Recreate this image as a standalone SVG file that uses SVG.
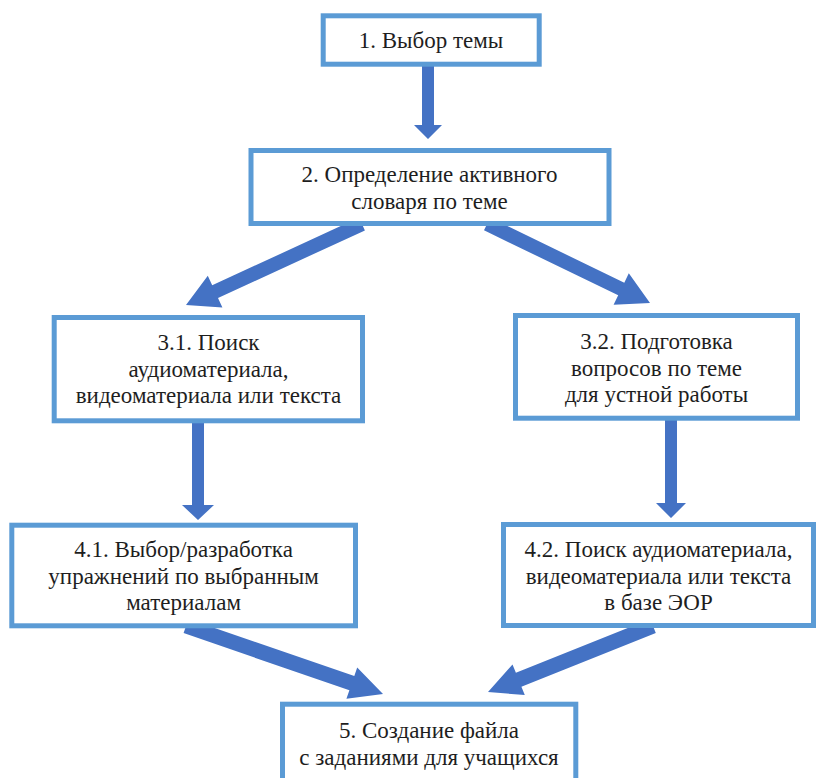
<svg xmlns="http://www.w3.org/2000/svg" width="818" height="778" viewBox="0 0 818 778">
<rect width="818" height="778" fill="#ffffff"/>
<g id="connectors" fill="#4472c4">
<polygon points="422,64 434,64 434,125 442,125 428,139 414,125 422,125"/>
<polygon points="359.1,217.6 212.2,285.3 207.8,275.7 186,305 222.4,307.5 218.0,298.0 364.9,230.4"/>
<polygon points="490.1,217.7 624.3,282.7 628.8,273.3 650,303 613.6,304.8 618.2,295.3 484.0,230.3"/>
<polygon points="192,420 204,420 204,505 214,505 198,520 182,505 192,505"/>
<polygon points="665,418 677,418 677,503 686,503 671,518 656,503 665,503"/>
<polygon points="188.5,618.9 354.3,676.1 357.2,667.6 383,694 346.4,698.8 349.4,690.3 183.6,633.1"/>
<polygon points="650.2,619.0 515.9,672.8 512.5,664.4 488,692 524.8,695.1 521.4,686.7 655.8,633.0"/>
</g>
<g id="n1">
<rect x="323.2" y="15.8" width="216" height="48.4" fill="#ffffff" stroke="#5b9bd5" stroke-width="5"/>
<text x="431" y="48" font-family="Liberation Serif" font-size="23" fill="#1e1e1e" text-anchor="middle">1. Выбор темы</text>
</g>
<g id="n2">
<rect x="251" y="150.5" width="358" height="73" fill="#ffffff" stroke="#5b9bd5" stroke-width="5"/>
<text x="429.5" y="182" font-family="Liberation Serif" font-size="23" fill="#1e1e1e" text-anchor="middle">2. Определение активного</text>
<text x="429.5" y="208.5" font-family="Liberation Serif" font-size="23" fill="#1e1e1e" text-anchor="middle">словаря по теме</text>
</g>
<g id="n31">
<rect x="54.2" y="317.5" width="308.3" height="103.3" fill="#ffffff" stroke="#5b9bd5" stroke-width="5"/>
<text x="208.5" y="350" font-family="Liberation Serif" font-size="23" fill="#1e1e1e" text-anchor="middle">3.1. Поиск</text>
<text x="208.5" y="376.5" font-family="Liberation Serif" font-size="23" fill="#1e1e1e" text-anchor="middle">аудиоматериала,</text>
<text x="208.5" y="403" font-family="Liberation Serif" font-size="23" fill="#1e1e1e" text-anchor="middle">видеоматериала или текста</text>
</g>
<g id="n32">
<rect x="515.5" y="315.5" width="282" height="102.7" fill="#ffffff" stroke="#5b9bd5" stroke-width="5"/>
<text x="656.5" y="349" font-family="Liberation Serif" font-size="23" fill="#1e1e1e" text-anchor="middle">3.2. Подготовка</text>
<text x="656.5" y="375.5" font-family="Liberation Serif" font-size="23" fill="#1e1e1e" text-anchor="middle">вопросов по теме</text>
<text x="656.5" y="402" font-family="Liberation Serif" font-size="23" fill="#1e1e1e" text-anchor="middle">для устной работы</text>
</g>
<g id="n41">
<rect x="11.8" y="525.2" width="343.7" height="100.6" fill="#ffffff" stroke="#5b9bd5" stroke-width="5"/>
<text x="183.6" y="557" font-family="Liberation Serif" font-size="23" fill="#1e1e1e" text-anchor="middle">4.1. Выбор/разработка</text>
<text x="183.6" y="583.5" font-family="Liberation Serif" font-size="23" fill="#1e1e1e" text-anchor="middle">упражнений по выбранным</text>
<text x="183.6" y="610" font-family="Liberation Serif" font-size="23" fill="#1e1e1e" text-anchor="middle">материалам</text>
</g>
<g id="n42">
<rect x="503.5" y="524.5" width="310" height="101" fill="#ffffff" stroke="#5b9bd5" stroke-width="5"/>
<text x="658.5" y="557" font-family="Liberation Serif" font-size="23" fill="#1e1e1e" text-anchor="middle">4.2. Поиск аудиоматериала,</text>
<text x="658.5" y="583.5" font-family="Liberation Serif" font-size="23" fill="#1e1e1e" text-anchor="middle">видеоматериала или текста</text>
<text x="658.5" y="610" font-family="Liberation Serif" font-size="23" fill="#1e1e1e" text-anchor="middle">в базе ЭОР</text>
</g>
<g id="n5">
<rect x="282.5" y="704.2" width="293.3" height="80" fill="#ffffff" stroke="#5b9bd5" stroke-width="5"/>
<text x="429" y="738" font-family="Liberation Serif" font-size="23" fill="#1e1e1e" text-anchor="middle">5. Создание файла</text>
<text x="429" y="765" font-family="Liberation Serif" font-size="23" fill="#1e1e1e" text-anchor="middle">с заданиями для учащихся</text>
</g>
</svg>
